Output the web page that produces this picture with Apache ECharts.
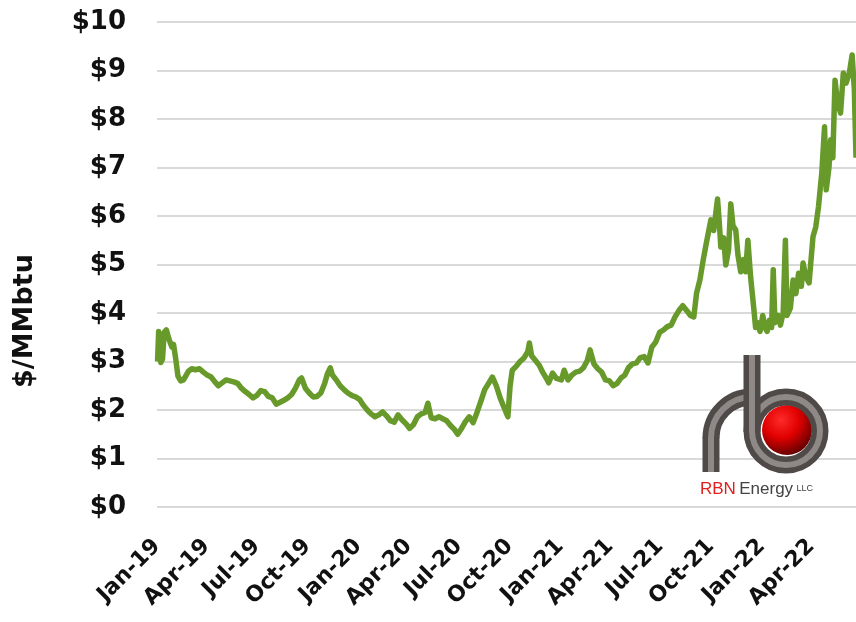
<!DOCTYPE html>
<html>
<head>
<meta charset="utf-8">
<script src="https://cdn.jsdelivr.net/npm/echarts@6/dist/echarts.min.js"></script>
<style>
html,body{margin:0;padding:0;background:#fff;}
#chart{width:856px;height:622px;}
</style>
</head>
<body>
<div id="chart"></div>
<script>
// Tick labels on the date axis (first day of each quarter)
const tickDates = ['2019-01-01','2019-04-01','2019-07-01','2019-10-01','2020-01-01','2020-04-01','2020-07-01',
  '2020-10-01','2021-01-01','2021-04-01','2021-07-01','2021-10-01','2022-01-01','2022-04-01'];
const tickLabels = ['Jan-19','Apr-19','Jul-19','Oct-19','Jan-20','Apr-20','Jul-20',
  'Oct-20','Jan-21','Apr-21','Jul-21','Oct-21','Jan-22','Apr-22'];
const yTicks = [0,1,2,3,4,5,6,7,8,9,10];
const yTitle = '$/MMbtu';

// Natural gas price, $/MMbtu
const prices2019 = [
  ['2019-01-02',3.00],['2019-01-04',3.62],['2019-01-08',2.98],['2019-01-11',3.05],['2019-01-14',3.60],
  ['2019-01-18',3.65],['2019-01-23',3.45],['2019-01-28',3.30],['2019-01-31',3.35],['2019-02-04',3.05],
  ['2019-02-08',2.70],['2019-02-13',2.60],['2019-02-18',2.62],['2019-02-22',2.70],['2019-02-27',2.80],
  ['2019-03-05',2.85],['2019-03-12',2.83],['2019-03-19',2.85],['2019-03-26',2.78],['2019-04-02',2.72],
  ['2019-04-09',2.68],['2019-04-16',2.58],['2019-04-22',2.50],['2019-04-29',2.56],['2019-05-06',2.62],
  ['2019-05-13',2.60],['2019-05-20',2.58],['2019-05-27',2.55],['2019-06-03',2.45],['2019-06-10',2.38],
  ['2019-06-17',2.32],['2019-06-24',2.25],['2019-07-01',2.30],['2019-07-08',2.40],['2019-07-15',2.38],
  ['2019-07-22',2.28],['2019-07-29',2.25],['2019-08-05',2.12],['2019-08-12',2.16],['2019-08-19',2.20],
  ['2019-08-26',2.25],['2019-09-02',2.32],['2019-09-09',2.45],['2019-09-16',2.62],['2019-09-20',2.66],
  ['2019-09-27',2.45],['2019-10-04',2.35],['2019-10-11',2.27],['2019-10-18',2.28],['2019-10-25',2.35],
  ['2019-11-01',2.55],['2019-11-06',2.75],['2019-11-11',2.87],['2019-11-15',2.72],['2019-11-22',2.62],
  ['2019-11-29',2.50],['2019-12-06',2.42],['2019-12-13',2.35],['2019-12-20',2.30],['2019-12-27',2.27]
];
const prices2020 = [
  ['2020-01-03',2.22],['2020-01-10',2.10],['2020-01-17',2.00],['2020-01-24',1.92],['2020-01-31',1.86],
  ['2020-02-07',1.90],['2020-02-14',1.96],['2020-02-21',1.88],['2020-02-28',1.78],['2020-03-06',1.75],
  ['2020-03-13',1.90],['2020-03-20',1.80],['2020-03-27',1.72],['2020-04-03',1.62],['2020-04-10',1.70],
  ['2020-04-17',1.86],['2020-04-24',1.92],['2020-05-01',1.95],['2020-05-06',2.14],['2020-05-12',1.84],
  ['2020-05-19',1.82],['2020-05-26',1.86],['2020-06-02',1.82],['2020-06-09',1.78],['2020-06-16',1.68],
  ['2020-06-23',1.60],['2020-06-29',1.50],['2020-07-06',1.62],['2020-07-13',1.76],['2020-07-20',1.86],
  ['2020-07-27',1.74],['2020-08-03',1.95],['2020-08-10',2.18],['2020-08-17',2.42],['2020-08-24',2.55],
  ['2020-08-31',2.68],['2020-09-07',2.50],['2020-09-14',2.25],['2020-09-21',2.05],['2020-09-28',1.86],
  ['2020-10-02',2.50],['2020-10-06',2.82],['2020-10-13',2.90],['2020-10-20',3.00],['2020-10-27',3.07],
  ['2020-11-03',3.20],['2020-11-06',3.38],['2020-11-10',3.12],['2020-11-17',3.02],['2020-11-24',2.92],
  ['2020-11-30',2.78],['2020-12-07',2.65],['2020-12-11',2.56],['2020-12-18',2.76],['2020-12-25',2.65]
];
const prices2021 = [
  ['2021-01-03',2.62],['2021-01-08',2.82],['2021-01-15',2.62],['2021-01-22',2.72],['2021-01-29',2.78],
  ['2021-02-05',2.80],['2021-02-12',2.87],['2021-02-19',3.02],['2021-02-24',3.24],['2021-03-03',2.95],
  ['2021-03-10',2.85],['2021-03-17',2.78],['2021-03-24',2.62],['2021-03-31',2.60],['2021-04-07',2.50],
  ['2021-04-14',2.55],['2021-04-21',2.66],['2021-04-28',2.72],['2021-05-05',2.88],['2021-05-12',2.95],
  ['2021-05-19',2.97],['2021-05-26',3.08],['2021-06-02',3.10],['2021-06-09',2.97],['2021-06-16',3.30],
  ['2021-06-23',3.40],['2021-06-30',3.60],['2021-07-07',3.65],['2021-07-14',3.72],['2021-07-21',3.75],
  ['2021-07-28',3.92],['2021-08-04',4.05],['2021-08-11',4.15],['2021-08-18',4.05],['2021-08-25',3.95],
  ['2021-08-31',3.92],['2021-09-05',4.41],['2021-09-11',4.68],['2021-09-17',5.09],['2021-09-23',5.46],
  ['2021-10-01',5.92],['2021-10-06',5.70],['2021-10-13',6.35],['2021-10-16',5.90],['2021-10-19',5.36],
  ['2021-10-24',5.55],['2021-10-28',4.99],['2021-11-02',5.30],['2021-11-06',6.25],['2021-11-10',5.80],
  ['2021-11-15',5.71],['2021-11-19',5.20],['2021-11-24',4.85],['2021-11-29',5.10],['2021-12-03',4.85],
  ['2021-12-07',5.50],['2021-12-12',4.74],['2021-12-18',4.06],['2021-12-21',3.70],['2021-12-25',3.80],
  ['2021-12-29',3.62]
];
const prices2022 = [
  ['2022-01-03',3.95],['2022-01-07',3.70],['2022-01-11',3.62],['2022-01-15',3.85],['2022-01-19',3.70],
  ['2022-01-22',4.89],['2022-01-25',3.80],['2022-01-31',3.95],['2022-02-04',3.75],['2022-02-09',4.00],
  ['2022-02-13',5.50],['2022-02-16',3.95],['2022-02-22',4.10],['2022-02-27',4.68],['2022-03-04',4.40],
  ['2022-03-09',4.82],['2022-03-14',4.55],['2022-03-17',5.03],['2022-03-22',4.75],['2022-03-28',4.62],
  ['2022-04-04',5.57],['2022-04-09',5.77],['2022-04-14',6.19],['2022-04-20',6.89],['2022-04-25',7.84],
  ['2022-04-28',6.54],['2022-05-03',7.00],['2022-05-06',7.57],['2022-05-10',7.20],['2022-05-14',8.80],
  ['2022-05-18',8.39],['2022-05-24',8.12],['2022-05-29',8.95],['2022-06-03',8.74],['2022-06-09',8.95],
  ['2022-06-14',9.32],['2022-06-18',8.60],['2022-06-21',7.20]
];
const priceData = prices2019.concat(prices2020, prices2021, prices2022);

// day number (UTC) used as the numeric x value
const dayNum = s => Date.UTC(+s.slice(0, 4), +s.slice(5, 7) - 1, +s.slice(8, 10)) / 86400000;
const tickValues = tickDates.map(dayNum);
const seriesData = priceData.map(d => [dayNum(d[0]), d[1]]);

const chart = echarts.init(document.getElementById('chart'), null, {renderer: 'canvas'});
const labelFont = 'DejaVu Sans';

const pipeDark = '#4f4a47', pipeLight = '#8e8986';
function pipe(shapeType, shape, z) {
  return [
    {type: shapeType, shape: shape, z: z, style: {fill: null, stroke: pipeDark, lineWidth: 17, lineCap: 'butt'}},
    {type: shapeType, shape: shape, z: z + 1, style: {fill: null, stroke: pipeLight, lineWidth: 6, lineCap: 'butt'}}
  ];
}

const option = {
  backgroundColor: '#ffffff',
  animation: false,
  grid: {left: 157, right: 0, top: 22, bottom: 115, containLabel: false},
  xAxis: {
    type: 'value',
    min: tickValues[0],
    max: seriesData[seriesData.length - 1][0],
    axisLine: {show: false},
    axisTick: {show: false},
    splitLine: {show: false},
    axisLabel: {
      customValues: tickValues,
      rotate: 45,
      margin: 36,
      color: '#111',
      fontFamily: labelFont,
      fontWeight: 'bold',
      fontSize: 22,
      showMinLabel: true,
      showMaxLabel: true,
      formatter: function (v) {
        const i = tickValues.indexOf(v);
        return i >= 0 ? tickLabels[i] : '';
      }
    }
  },
  yAxis: {
    type: 'value',
    min: yTicks[0],
    max: yTicks[yTicks.length - 1],
    interval: 1,
    axisLine: {show: false},
    axisTick: {show: false},
    splitLine: {lineStyle: {color: '#d9d9d9', width: 2}},
    axisLabel: {
      margin: 31,
      color: '#111',
      fontFamily: labelFont,
      fontWeight: 'bold',
      fontSize: 26,
      formatter: v => '$' + v
    }
  },
  series: [{
    type: 'line',
    data: seriesData,
    showSymbol: false,
    symbol: 'none',
    lineStyle: {color: '#679a2b', width: 5.5, join: 'round'},
    z: 2
  }],
  graphic: [
    {type: 'text', x: 25, y: 321, rotation: Math.PI / 2,
      style: {text: yTitle, font: 'bold 27px "DejaVu Sans"', fill: '#111', align: 'center', verticalAlign: 'middle'}},
    // RBN Energy logo
    {type: 'circle', shape: {cx: 787, cy: 430, r: 25}, z: 10,
      style: {fill: {type: 'radial', x: 0.38, y: 0.3, r: 0.8,
        colorStops: [{offset: 0, color: '#ff2a2a'}, {offset: 0.45, color: '#e00000'}, {offset: 1, color: '#4a0000'}]}}},
    ...pipe('circle', {cx: 786, cy: 431, r: 34}, 11),
    ...pipe('arc', {cx: 752, cy: 438, r: 41, startAngle: Math.PI, endAngle: Math.PI * 1.5, clockwise: true}, 13),
    ...pipe('line', {x1: 711, y1: 437, x2: 711, y2: 472}, 13),
    ...pipe('line', {x1: 752, y1: 355, x2: 752, y2: 432}, 15),
    {type: 'text', x: 700, y: 489, z: 20,
      style: {
        text: '{a|RBN} {b|Energy} {c|LLC}',
        verticalAlign: 'middle',
        rich: {
          a: {fill: '#e0201e', font: '17px "Liberation Sans"'},
          b: {fill: '#444', font: '17px "Liberation Sans"'},
          c: {fill: '#444', font: '9px "Liberation Sans"'}
        }
      }}
  ]
};
chart.setOption(option);
</script>
</body>
</html>
